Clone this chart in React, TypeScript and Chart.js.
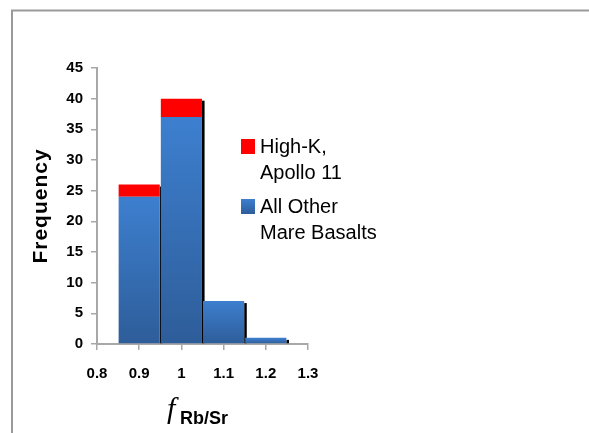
import React, { useEffect, useRef } from "react";
import { Chart, registerables } from "chart.js";

Chart.register(...registerables);

// ---- data ----
const binCenters = [0.9, 1.0, 1.1, 1.2];
const otherMareBasalts = [24, 37, 7, 1];
const highKApollo11 = [2, 3, 0, 0];
const xTickValues = [0.8, 0.9, 1.0, 1.1, 1.2, 1.3];
const yTickMax = 45;
const yTickStep = 5;
const legendHighK = ["High-K,", "Apollo 11"];
const legendOther = ["All Other", "Mare Basalts"];
const yTitle = "Frequency";
const xTitleSymbol = "f";
const xTitleSub = "Rb/Sr";

// ---- styles ----
const FONT = 'Arial, "Liberation Sans", sans-serif';
const RED = "#ff0000";
const BLUE_TOP = "#3d7fcf";
const BLUE_BOTTOM = "#2e5d99";
const AXIS = "#a8a8a8";

function blueGradient(ctx: CanvasRenderingContext2D, top: number, bottom: number) {
  const g = ctx.createLinearGradient(0, top, 0, bottom);
  g.addColorStop(0, BLUE_TOP);
  g.addColorStop(1, BLUE_BOTTOM);
  return g;
}

const decorPlugin = {
  id: "decor",
  beforeDraw(chart: any) {
    const ctx = chart.ctx as CanvasRenderingContext2D;
    ctx.save();
    ctx.strokeStyle = "#9a9a9a";
    ctx.lineWidth = 2;
    ctx.beginPath();
    ctx.moveTo(12, 440);
    ctx.lineTo(12, 10.5);
    ctx.lineTo(600, 10.5);
    ctx.stroke();
    ctx.restore();
  },
  beforeDatasetsDraw(chart: any) {
    const ctx = chart.ctx as CanvasRenderingContext2D;
    const metas = chart.getSortedVisibleDatasetMetas();
    ctx.save();
    ctx.fillStyle = "#000";
    for (let i = 0; i < binCenters.length; i++) {
      let top = Infinity;
      let right = -Infinity;
      let base = -Infinity;
      metas.forEach((m: any) => {
        const el = m.data[i];
        if (!el) return;
        const p = el.getProps(["x", "y", "base", "width"], true);
        if (Math.abs(p.base - p.y) < 0.5) return;
        top = Math.min(top, p.y);
        right = Math.max(right, p.x + p.width / 2);
        base = Math.max(base, p.base);
      });
      if (top === Infinity) continue;
      ctx.fillRect(right, top + 2, 2.6, base - top - 2);
    }
    ctx.restore();
  },
  afterDraw(chart: any) {
    const ctx = chart.ctx as CanvasRenderingContext2D;
    const area = chart.chartArea;
    ctx.save();
    // y title
    ctx.fillStyle = "#000";
    ctx.font = `bold 21px ${FONT}`;
    (ctx as any).letterSpacing = "1px";
    ctx.textAlign = "center";
    ctx.textBaseline = "alphabetic";
    ctx.translate(47, (area.top + area.bottom) / 2);
    ctx.rotate(-Math.PI / 2);
    ctx.fillText(yTitle, 0, 0);
    ctx.restore();

    ctx.save();
    (ctx as any).letterSpacing = "0px";
    ctx.fillStyle = "#000";
    ctx.textAlign = "left";
    ctx.textBaseline = "alphabetic";
    ctx.font = `italic 30px "Liberation Serif", "Times New Roman", serif`;
    ctx.fillText(xTitleSymbol, 167, 418);
    ctx.font = `bold 18px ${FONT}`;
    ctx.fillText(xTitleSub, 180, 424);

    // legend
    ctx.fillStyle = RED;
    ctx.fillRect(241, 139, 14, 15);
    ctx.fillStyle = blueGradient(ctx, 199, 214);
    ctx.fillRect(241, 199, 14, 15);
    ctx.fillStyle = "#000";
    ctx.font = `20px ${FONT}`;
    ctx.fillText(legendHighK[0], 260, 153);
    ctx.fillText(legendHighK[1], 260, 179);
    ctx.fillText(legendOther[0], 260, 213);
    ctx.fillText(legendOther[1], 260, 239);
    ctx.restore();
  },
};

export default function App() {
  const ref = useRef<HTMLCanvasElement | null>(null);

  useEffect(() => {
    if (!ref.current) return;
    const tickFont = { family: FONT, size: 15, weight: "bold" as const };
    const chart = new Chart(ref.current, {
      type: "bar",
      data: {
        datasets: [
          {
            label: legendOther.join(" "),
            data: binCenters.map((x, i) => ({ x, y: otherMareBasalts[i] })),
            backgroundColor: (c: any) => {
              const ch = c.chart;
              const y = ch.scales && ch.scales.y;
              if (!y || c.type !== "data") return BLUE_TOP;
              const top = y.getPixelForValue(otherMareBasalts[c.dataIndex]);
              const bottom = y.getPixelForValue(0);
              if (!isFinite(top) || !isFinite(bottom) || top === bottom) return BLUE_TOP;
              return blueGradient(ch.ctx, top, bottom);
            },
            borderWidth: 0,
            inflateAmount: 0,
            barPercentage: 0.975,
            categoryPercentage: 1,
          },
          {
            label: legendHighK.join(" "),
            data: binCenters.map((x, i) => ({ x, y: highKApollo11[i] })),
            backgroundColor: RED,
            borderWidth: 0,
            inflateAmount: 0,
            barPercentage: 0.975,
            categoryPercentage: 1,
          },
        ],
      },
      options: {
        animation: false,
        responsive: false,
        layout: { padding: { top: 68, right: 281, left: 0, bottom: 0 } },
        plugins: {
          legend: { display: false },
          tooltip: { enabled: false },
          title: { display: false },
        },
        scales: {
          x: {
            type: "linear",
            min: xTickValues[0],
            max: xTickValues[xTickValues.length - 1],
            stacked: true,
            offset: false,
            z: 1,
            afterBuildTicks: (s: any) => {
              s.ticks = xTickValues.map((v) => ({ value: v }));
            },
            afterFit: (s: any) => {
              s.height = 89;
            },
            grid: {
              display: true,
              drawOnChartArea: false,
              drawTicks: true,
              tickLength: 6,
              tickColor: AXIS,
              lineWidth: 1.5,
              offset: false,
            },
            border: { display: true, color: AXIS, width: 2 },
            ticks: {
              color: "#000",
              font: tickFont,
              padding: 15,
              maxRotation: 0,
              autoSkip: false,
              callback: (v: any) => String(Math.round(Number(v) * 10) / 10),
            },
          } as any,
          y: {
            stacked: true,
            min: 0,
            max: yTickMax,
            afterFit: (s: any) => {
              s.width = 97;
            },
            grid: {
              display: true,
              drawOnChartArea: false,
              drawTicks: true,
              tickLength: 6,
              tickColor: AXIS,
              lineWidth: 1.5,
            },
            border: { display: true, color: AXIS, width: 2 },
            ticks: {
              stepSize: yTickStep,
              color: "#000",
              font: tickFont,
              padding: 8,
            },
          },
        },
      },
      plugins: [decorPlugin],
    });
    return () => chart.destroy();
  }, []);

  return (
    <div style={{ position: "fixed", left: 0, top: 0, width: 589, height: 433, background: "#fff", overflow: "hidden" }}>
      <canvas ref={ref} width={589} height={433} style={{ display: "block" }} />
    </div>
  );
}
